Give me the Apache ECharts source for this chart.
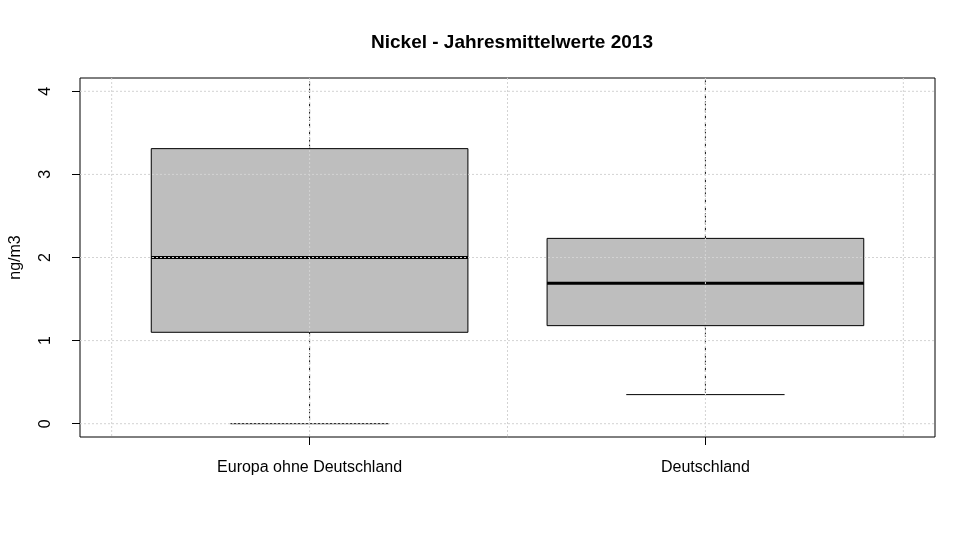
<!DOCTYPE html>
<html>
<head>
<meta charset="utf-8">
<script src="https://cdn.jsdelivr.net/npm/echarts@6/dist/echarts.min.js"></script>
<style>html,body{margin:0;padding:0;background:#fff}#c{width:976px;height:534px}</style>
</head>
<body>
<div id="c"></div>
<script>
const categories = ['Europa ohne Deutschland', 'Deutschland'];
const lowerWhisker = [0.0, 0.35];
const q1 = [1.10, 1.18];
const median = [2.00, 1.69];
const q3 = [3.31, 2.23];
const upperWhisker = [4.9, 4.5];   // extends beyond the visible range (clipped at the top)
const yTicks = [0, 1, 2, 3, 4];
const xTicks = [1, 2];
const xGrid = [0.5, 1, 1.5, 2, 2.5];
const yGrid = [0, 1, 2, 3, 4];

const boxData = categories.map((c, i) => [i + 1, lowerWhisker[i], q1[i], median[i], q3[i], upperWhisker[i]]);
const gridData = xGrid.map(v => [0, v]).concat(yGrid.map(v => [1, v]));

const chart = echarts.init(document.getElementById('c'), null, {renderer: 'canvas'});
const FONT = 'Liberation Sans, Arial, Helvetica, sans-serif';

chart.setOption({
  backgroundColor: '#ffffff',
  animation: false,
  title: {
    text: 'Nickel - Jahresmittelwerte 2013',
    left: 366, top: 28,
    textStyle: {fontFamily: FONT, fontSize: 19, fontWeight: 'bold', color: '#000'}
  },
  grid: {
    left: 79, right: 41, top: 78, bottom: 97,
    show: true, borderColor: '#000', borderWidth: 1, backgroundColor: 'transparent'
  },
  xAxis: {
    type: 'value', min: 0.42, max: 2.58,
    axisLine: {show: false, onZero: false},
    splitLine: {show: false},
    axisTick: {show: true, inside: false, customValues: xTicks, length: 8, lineStyle: {color: '#000'}},
    axisLabel: {
      customValues: xTicks, margin: 23,
      formatter: v => categories[Math.round(v) - 1] || '',
      fontFamily: FONT, fontSize: 16, color: '#000'
    }
  },
  yAxis: {
    type: 'value', min: -0.16, max: 4.16,
    name: 'ng/m3', nameLocation: 'middle', nameGap: 56, nameRotate: 90,
    nameTextStyle: {fontFamily: FONT, fontSize: 16, color: '#000'},
    axisLine: {show: false, onZero: false},
    splitLine: {show: false},
    axisTick: {show: true, inside: false, customValues: yTicks, length: 8, lineStyle: {color: '#000'}},
    axisLabel: {
      customValues: yTicks, rotate: 90, margin: 26,
      fontFamily: FONT, fontSize: 16, color: '#000'
    }
  },
  series: [
    {
      type: 'custom', clip: true, z: 2,
      data: boxData,
      renderItem: function (params, api) {
        const x = api.value(0);
        const lo = api.coord([x, api.value(1)]);
        const b1 = api.coord([x, api.value(2)]);
        const md = api.coord([x, api.value(3)]);
        const b3 = api.coord([x, api.value(4)]);
        const hi = api.coord([x, api.value(5)]);
        const w = api.size([0.8, 0])[0];
        const cw = w / 2;
        const cs = params.coordSys;
        const hiY = Math.max(hi[1], cs.y);
        const dash = {stroke: '#111', lineWidth: 1, lineDash: [4, 3]};
        return {
          type: 'group',
          children: [
            {type: 'line', shape: {x1: lo[0], y1: b1[1], x2: lo[0], y2: lo[1]}, style: dash},
            {type: 'line', shape: {x1: b3[0], y1: b3[1], x2: b3[0], y2: hiY}, style: dash},
            {type: 'line', shape: {x1: lo[0] - cw / 2, y1: lo[1], x2: lo[0] + cw / 2, y2: lo[1]}, style: {stroke: '#000', lineWidth: 1}},
            {type: 'rect', shape: {x: b1[0] - w / 2, y: b3[1], width: w, height: b1[1] - b3[1]},
              style: {fill: '#bebebe', stroke: '#000', lineWidth: 1}},
            {type: 'line', shape: {x1: md[0] - w / 2, y1: md[1], x2: md[0] + w / 2, y2: md[1]}, style: {stroke: '#000', lineWidth: 3}}
          ]
        };
      }
    },
    {
      type: 'custom', clip: true, z: 3, silent: true,
      data: gridData,
      renderItem: function (params, api) {
        const cs = params.coordSys;
        const dir = api.value(0);
        const v = api.value(1);
        const style = {stroke: '#d3d3d3', lineWidth: 1, lineDash: [2, 2]};
        if (dir === 0) {
          const p = api.coord([v, 0]);
          return {type: 'line', shape: {x1: p[0], y1: cs.y, x2: p[0], y2: cs.y + cs.height}, style};
        } else {
          const p = api.coord([1, v]);
          return {type: 'line', shape: {x1: cs.x, y1: p[1], x2: cs.x + cs.width, y2: p[1]}, style};
        }
      }
    }
  ]
});
</script>
</body>
</html>
